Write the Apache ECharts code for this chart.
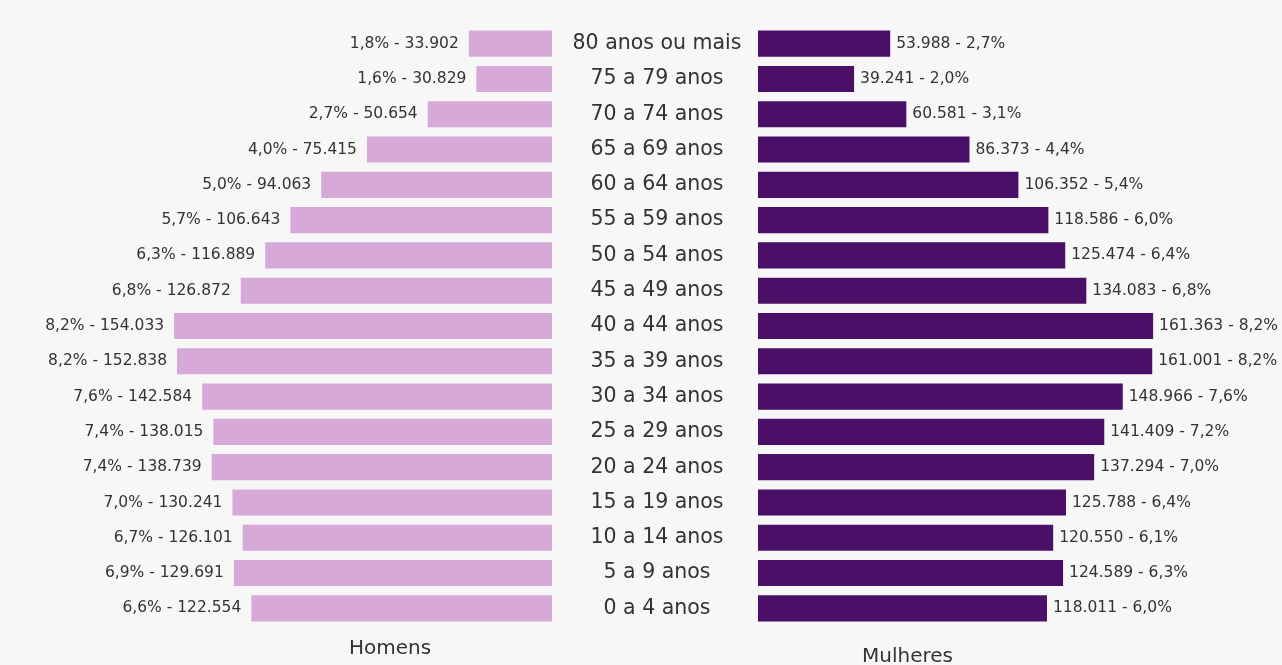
<!DOCTYPE html>
<html>
<head>
<meta charset="utf-8">
<script src="https://cdn.jsdelivr.net/npm/echarts@6/dist/echarts.min.js"></script>
<style>
html,body{margin:0;padding:0;background:#f8f7f8;}
#chart{width:1282px;height:665px;}
</style>
</head>
<body>
<div id="chart"></div>
<script>
// Categories from bottom (youngest) to top (oldest)
const categories = ['0 a 4 anos','5 a 9 anos','10 a 14 anos','15 a 19 anos','20 a 24 anos','25 a 29 anos','30 a 34 anos','35 a 39 anos','40 a 44 anos','45 a 49 anos','50 a 54 anos','55 a 59 anos','60 a 64 anos','65 a 69 anos','70 a 74 anos','75 a 79 anos','80 anos ou mais'];
const menValues = [122554,129691,126101,130241,138739,138015,142584,152838,154033,126872,116889,106643,94063,75415,50654,30829,33902];
const menPct = [6.6,6.9,6.7,7.0,7.4,7.4,7.6,8.2,8.2,6.8,6.3,5.7,5.0,4.0,2.7,1.6,1.8];
const womenValues = [118011,124589,120550,125788,137294,141409,148966,161001,161363,134083,125474,118586,106352,86373,60581,39241,53988];
const womenPct = [6.0,6.3,6.1,6.4,7.0,7.2,7.6,8.2,8.2,6.8,6.4,6.0,5.4,4.4,3.1,2.0,2.7];
const groupNames = ['Homens','Mulheres'];

const fmtNum = v => v.toLocaleString('de-DE');
const fmtPct = p => p.toFixed(1).replace('.', ',') + '%';

const FONT = '"DejaVu Sans"';
const TXT = '#333333';
const chart = echarts.init(document.getElementById('chart'), null, {renderer:'canvas'});
chart.setOption({
  backgroundColor:'#f8f7f8',
  animation:false,
  textStyle:{fontFamily:FONT},
  grid:[
    {left:0, right:730, top:26, bottom:39, containLabel:false},
    {left:758, right:0, top:26, bottom:39, containLabel:false}
  ],
  xAxis:[
    {gridIndex:0, type:'value', inverse:true, min:0, max:225000, show:false},
    {gridIndex:1, type:'value', min:0, max:214000, show:false}
  ],
  yAxis:[
    {gridIndex:0, type:'category', data:categories, show:false},
    {gridIndex:1, type:'category', data:categories,
     axisLine:{show:false}, axisTick:{show:false}, splitLine:{show:false},
     axisLabel:{show:true, align:'center', margin:101, fontSize:20.5, color:TXT, fontFamily:FONT}}
  ],
  series:[
    {type:'bar', name:groupNames[0], xAxisIndex:0, yAxisIndex:0, data:menValues, barWidth:'74%',
     itemStyle:{color:'#d6a9d9'},
     label:{show:true, position:'left', distance:10, fontSize:15.5, color:TXT, fontFamily:FONT,
       formatter:p => fmtPct(menPct[p.dataIndex]) + ' - ' + fmtNum(p.value)}},
    {type:'bar', name:groupNames[1], xAxisIndex:1, yAxisIndex:1, data:womenValues, barWidth:'74%',
     itemStyle:{color:'#4a0f66'},
     label:{show:true, position:'right', distance:6, fontSize:15.5, color:TXT, fontFamily:FONT,
       formatter:p => fmtNum(p.value) + ' - ' + fmtPct(womenPct[p.dataIndex])}}
  ],
  graphic:[
    {type:'text', left:349, top:639, style:{text:groupNames[0], fontSize:20, fill:TXT, fontFamily:FONT}},
    {type:'text', left:862, top:647, style:{text:groupNames[1], fontSize:20, fill:TXT, fontFamily:FONT}}
  ]
});
</script>
</body>
</html>
